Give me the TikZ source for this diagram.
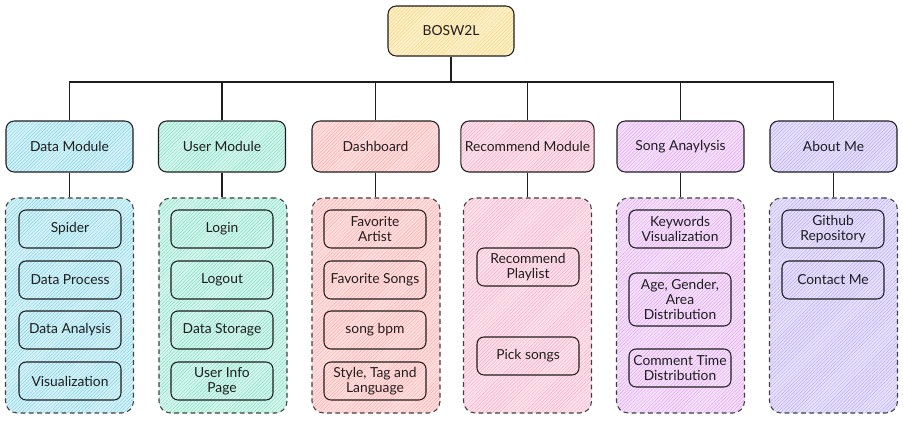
\documentclass[tikz,border=0pt]{standalone}
\usepackage{fontspec}
\setmainfont{Lato}
\usepackage{xcolor}
\usetikzlibrary{patterns}

\definecolor{ink}{HTML}{1E1E1E}
\definecolor{cYellow}{HTML}{F8D26A}
\definecolor{cCyan}{HTML}{7CD3E6}
\definecolor{cTeal}{HTML}{7CE0C2}
\definecolor{cRed}{HTML}{FFA3A3}
\definecolor{cPink}{HTML}{F7A6C4}
\definecolor{cGrape}{HTML}{E0A2F3}
\definecolor{cViolet}{HTML}{B6A4F5}

\tikzset{
  hatch/.style={preaction={fill=#1!30}, pattern=north east lines, pattern color=#1},
  rootbox/.style={draw=ink, rounded corners=7pt, minimum width=3.78cm, minimum height=1.5cm, hatch=cYellow},
  modbox/.style={draw=ink, rounded corners=7pt, minimum width=3.81cm, minimum height=1.53cm, hatch=#1},
  grpbox/.style={draw=ink!85, dash pattern=on 4pt off 3pt, rounded corners=10pt, minimum width=3.84cm, minimum height=6.45cm, hatch=#1},
  itembox/.style={draw=ink, rounded corners=6pt, minimum width=3.06cm, minimum height=1.14cm, align=center, hatch=#1},
  link/.style={draw=ink, line width=0.9pt}
}

\begin{document}
\begin{tikzpicture}[x=0.03cm, y=-0.03cm, line width=0.9pt,
  every node/.style={font=\fontsize{11.8}{13}\selectfont, text=ink}]
\useasboundingbox (0,0) rectangle (903,420);

% root and bus
\node[rootbox] (root) at (451,31) {BOSW2L};
\coordinate (bus) at (451,82);

% modules
\node[modbox=cCyan] (mdata) at (69.5,146.5) {Data Module};
\node[modbox=cTeal] (muser) at (222,146.5) {User Module};
\node[modbox=cRed] (mdash) at (375.5,146.5) {Dashboard};
\node[modbox=cPink] (mrec) at (527.5,146.5) {Recommend Module};
\node[modbox=cGrape] (msong) at (680.5,146.5) {Song Anaylysis};
\node[modbox=cViolet] (mabout) at (833.5,146.5) {About Me};

\draw[link] (root.south) -- (bus);
\draw[link] (mdata.north) -- (mdata.north |- bus) -- (mabout.north |- bus) -- (mabout.north);
\draw[link] (muser.north) -- (muser.north |- bus);
\draw[link] (mdash.north) -- (mdash.north |- bus);
\draw[link] (mrec.north) -- (mrec.north |- bus);
\draw[link] (msong.north) -- (msong.north |- bus);

% groups
\node[grpbox=cCyan] (gdata) at (69.5,305.5) {};
\node[grpbox=cTeal] (guser) at (223,305.5) {};
\node[grpbox=cRed] (gdash) at (376,305.5) {};
\node[grpbox=cPink] (grec) at (527.5,305.5) {};
\node[grpbox=cGrape] (gsong) at (680.5,305.5) {};
\node[grpbox=cViolet] (gabout) at (833.5,305.5) {};

\draw[link] (mdata.south) -- (mdata.south |- gdata.north);
\draw[link] (muser.south) -- (muser.south |- guser.north);
\draw[link] (mdash.south) -- (mdash.south |- gdash.north);
\draw[link] (mrec.south) -- (mrec.south |- grec.north);
\draw[link] (msong.south) -- (msong.south |- gsong.north);
\draw[link] (mabout.south) -- (mabout.south |- gabout.north);

% data module
\node[itembox=cCyan] (spider) at (70,229) {Spider};
\node[itembox=cCyan] (dproc) at (70,280) {Data Process};
\node[itembox=cCyan] (dana) at (70,330) {Data Analysis};
\node[itembox=cCyan] (dvis) at (70,381) {Visualization};

% user module
\node[itembox=cTeal] (login) at (222,229) {Login};
\node[itembox=cTeal] (logout) at (222,280) {Logout};
\node[itembox=cTeal] (dstore) at (222,330) {Data Storage};
\node[itembox=cTeal] (uinfo) at (222,381) {User Info\\Page};

% dashboard
\node[itembox=cRed] (favart) at (375,229) {Favorite\\Artist};
\node[itembox=cRed] (favsong) at (375,280) {Favorite Songs};
\node[itembox=cRed] (bpm) at (375,330) {song bpm};
\node[itembox=cRed] (style) at (375,381) {Style, Tag and\\Language};

% recommend
\node[itembox=cPink] (recpl) at (528,267) {Recommend\\Playlist};
\node[itembox=cPink] (pick) at (528,356) {Pick songs};

% song analysis
\node[itembox=cGrape] (kwvis) at (680,229) {Keywords\\Visualization};
\node[itembox=cGrape, minimum height=1.59cm] (agedist) at (680,299.5) {Age, Gender,\\Area\\Distribution};
\node[itembox=cGrape] (ctime) at (680,368) {Comment Time\\Distribution};

% about me
\node[itembox=cViolet] (github) at (833,229) {Github\\Repository};
\node[itembox=cViolet] (contact) at (833,280) {Contact Me};
\end{tikzpicture}
\end{document}
